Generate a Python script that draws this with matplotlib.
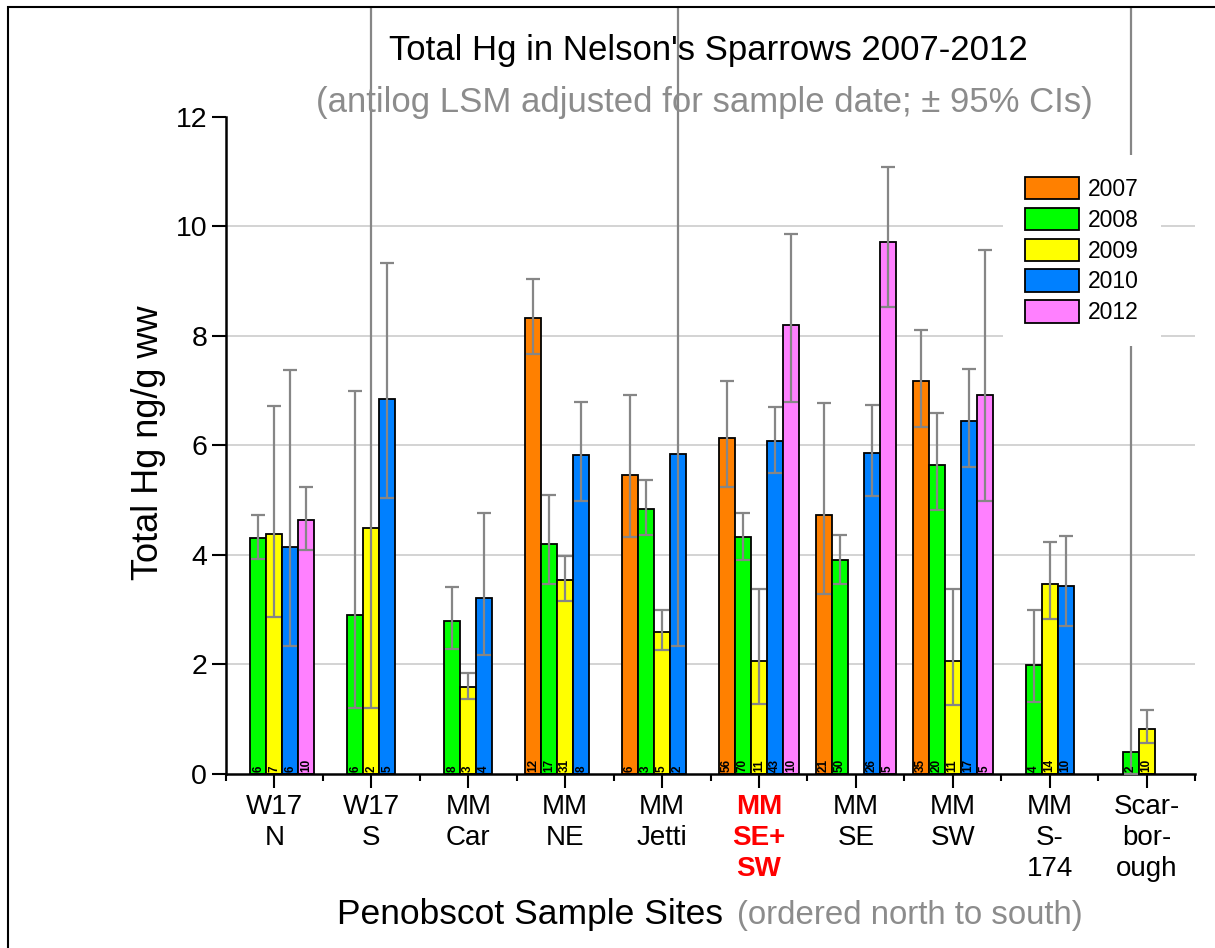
import numpy as np
import matplotlib
matplotlib.use('Agg')
import matplotlib.pyplot as plt
from matplotlib.patches import Rectangle

plt.rcParams['font.family'] = ['Liberation Sans', 'DejaVu Sans']

nan = np.nan
sites = ["W17\nN", "W17\nS", "MM\nCar", "MM\nNE", "MM\nJetti",
         "MM\nSE+\nSW", "MM\nSE", "MM\nSW", "MM\nS-\n174", "Scar-\nbor-\nough"]
years = ["2007", "2008", "2009", "2010", "2012"]
colors = ["#FF8000", "#00FF00", "#FFFF00", "#0080FF", "#FF80FF"]

# least-squares means (ng/g ww)
mean_2007 = [nan, nan, nan, 8.33, 5.46, 6.13, 4.72, 7.17, nan, nan]
mean_2008 = [4.31, 2.90, 2.79, 4.20, 4.84, 4.32, 3.90, 5.64, 1.98, 0.40]
mean_2009 = [4.38, 4.49, 1.59, 3.53, 2.59, 2.06, nan, 2.06, 3.46, 0.81]
mean_2010 = [4.14, 6.85, 3.21, 5.82, 5.84, 6.08, 5.86, 6.44, 3.42, nan]
mean_2012 = [4.63, nan, nan, nan, nan, 8.19, 9.72, 6.91, nan, nan]

# upper 95% CI (values beyond the frame are clipped)
upper_2007 = [nan, nan, nan, 9.04, 6.91, 7.18, 6.77, 8.11, nan, nan]
upper_2008 = [4.72, 6.99, 3.40, 5.09, 5.37, 4.77, 4.36, 6.59, 2.98, 20.0]
upper_2009 = [6.72, 20.0, 1.84, 3.98, 2.99, 3.38, nan, 3.37, 4.23, 1.16]
upper_2010 = [7.37, 9.33, 4.77, 6.79, 20.0, 6.70, 6.74, 7.39, 4.34, nan]
upper_2012 = [5.24, nan, nan, nan, nan, 9.87, 11.09, 9.56, nan, nan]

# lower 95% CI
lower_2007 = [nan, nan, nan, 7.67, 4.32, 5.23, 3.28, 6.33, nan, nan]
lower_2008 = [3.92, 1.19, 2.28, 3.47, 4.36, 3.91, 3.47, 4.82, 1.31, 0.0]
lower_2009 = [2.86, 1.19, 1.37, 3.15, 2.25, 1.27, nan, 1.26, 2.82, 0.56]
lower_2010 = [2.33, 5.03, 2.17, 4.99, 2.33, 5.50, 5.08, 5.60, 2.70, nan]
lower_2012 = [4.08, nan, nan, nan, nan, 6.79, 8.53, 4.98, nan, nan]

# sample sizes
n_2007 = [nan, nan, nan, 12, 6, 56, 21, 35, nan, nan]
n_2008 = [6, 6, 8, 17, 3, 70, 50, 20, 4, 2]
n_2009 = [7, 2, 3, 31, 5, 11, nan, 11, 14, 10]
n_2010 = [6, 5, 4, 8, 2, 43, 26, 17, 10, nan]
n_2012 = [10, nan, nan, nan, nan, 10, 5, 5, nan, nan]

yticks = [0, 2, 4, 6, 8, 10, 12]
gridlines = [2, 4, 6, 8, 10]

means = [mean_2007, mean_2008, mean_2009, mean_2010, mean_2012]
uppers = [upper_2007, upper_2008, upper_2009, upper_2010, upper_2012]
lowers = [lower_2007, lower_2008, lower_2009, lower_2010, lower_2012]
ns = [n_2007, n_2008, n_2009, n_2010, n_2012]

W, H = 1215, 948
fig = plt.figure(figsize=(W / 100, H / 100), dpi=100)
ax = fig.add_axes([226 / W, 1 - 773.5 / H, (1195 - 226) / W, (773.5 - 117) / H])

# outer frame (right/bottom edges fall outside the picture)
border = Rectangle((8 / W, -0.05), 1.2, (1 - 7 / H) + 0.05,
                   transform=fig.transFigure, fill=False, edgecolor='black',
                   linewidth=1.5, zorder=10)
fig.patches.append(border)
clip_rect = Rectangle((8 / W, -0.05), 1.2, (1 - 7 / H) + 0.05,
                      transform=fig.transFigure, fill=False, visible=False)
fig.patches.append(clip_rect)

for g in gridlines:
    ax.axhline(g, color='#cccccc', linewidth=1.2, zorder=0)

x = np.arange(1, len(sites) + 1)
bw = 0.165
for i, yr in enumerate(years):
    pos = x + (i - 2) * bw
    m = np.array(means[i], dtype=float)
    up = np.array(uppers[i], dtype=float)
    lo = np.array(lowers[i], dtype=float)
    ax.bar(pos, m, width=bw, color=colors[i], edgecolor='black',
           linewidth=1.3, label=yr, zorder=2)
    ok = ~np.isnan(m)
    eb = ax.errorbar(pos[ok], m[ok], yerr=[m[ok] - lo[ok], up[ok] - m[ok]],
                     fmt='none', ecolor='#868686', elinewidth=1.6,
                     capsize=5.2, capthick=1.6, zorder=3)
    for art in list(eb.lines[1]) + list(eb.lines[2]):
        if art is None:
            continue
        art.set_clip_on(True)
        art.set_clip_path(clip_rect)
    for j in np.where(ok)[0]:
        nv = ns[i][j]
        if not np.isnan(nv):
            ax.text(pos[j], 0.03, str(int(nv)), rotation=90, ha='center',
                    va='bottom', fontsize=8.5, fontweight='bold', zorder=4)

ax.set_xlim(0.5, 10.5)
ax.set_ylim(0, 12)
ax.set_yticks(yticks)
ax.set_xticks(x)
ax.set_xticklabels(sites, fontsize=20, linespacing=1.25)
ax.set_xticks(np.arange(0.5, 11, 1.0), minor=True)
lbl = ax.get_xticklabels()[5]
lbl.set_color('#FF0000')
lbl.set_fontweight('bold')
ax.tick_params(axis='y', labelsize=20.5, length=10, width=1.5, direction='out')
ax.tick_params(axis='x', which='major', length=10, width=1.5, pad=5)
ax.tick_params(axis='x', which='minor', length=5, width=1.5)
for s in ['top', 'right']:
    ax.spines[s].set_visible(False)
for s in ['left', 'bottom']:
    ax.spines[s].set_linewidth(1.8)

fig.text(148 / W, 1 - 443 / H, "Total Hg ng/g ww", rotation=90,
         ha='center', va='center', fontsize=26)

fig.text(708 / W, 1 - 60 / H, "Total Hg in Nelson's Sparrows 2007-2012",
         ha='center', va='baseline', fontsize=25)
fig.text(704 / W, 1 - 112 / H, "(antilog LSM adjusted for sample date; \u00b1 95% CIs)",
         ha='center', va='baseline', fontsize=25, color='#8c8c8c')
fig.text(337 / W, 1 - 924 / H, "Penobscot Sample Sites", ha='left',
         va='baseline', fontsize=25.5)
fig.text(1083 / W, 1 - 924 / H, "(ordered north to south)", ha='right',
         va='baseline', fontsize=23.8, color='#8c8c8c')

leg = ax.legend(loc='upper left', bbox_to_anchor=(1003 / W, 1 - 155 / H),
                bbox_transform=fig.transFigure, fontsize=16.5, frameon=True,
                facecolor='white', edgecolor='none', framealpha=1,
                fancybox=False, borderpad=0.95, borderaxespad=0,
                handlelength=2.36, handleheight=1.13, labelspacing=0.3,
                handletextpad=0.4)
leg.set_zorder(5)

fig.savefig('out.png', dpi=100)
